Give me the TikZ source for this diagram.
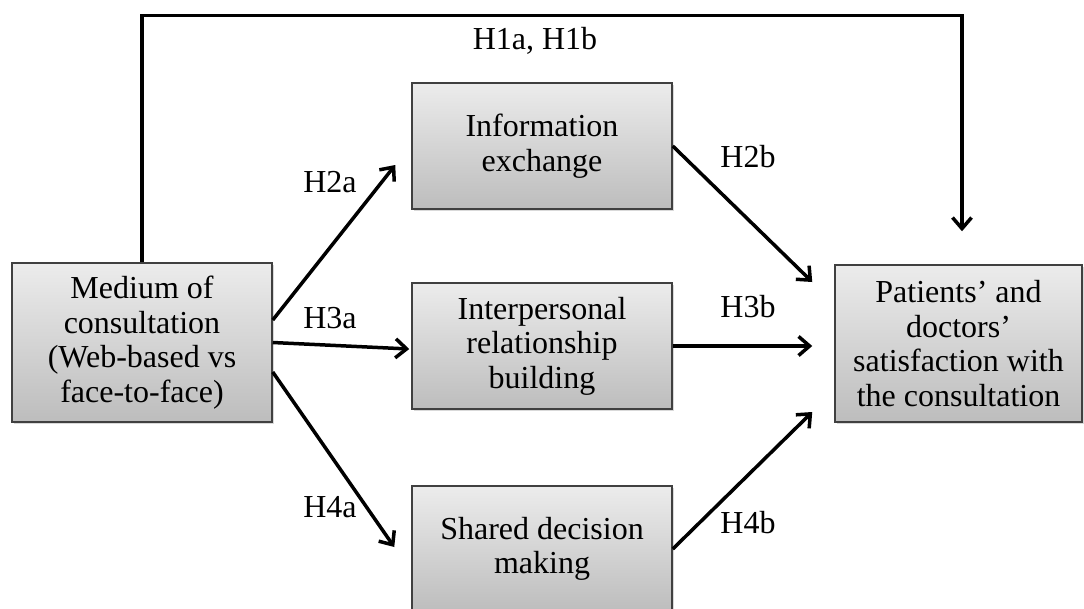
\documentclass[tikz,border=0pt]{standalone}
\usepackage{fontspec}
\setmainfont{Liberation Serif}
\usetikzlibrary{arrows.meta,shadows}

\newcommand{\figfont}{\fontsize{32}{34.5}\selectfont}

\tikzset{
  factor/.style={draw=black!75, line width=1.5pt, top color=gray!15, bottom color=gray!52,
    drop shadow={shadow xshift=1.5pt, shadow yshift=-1.5pt, opacity=0.3},
    align=center, font=\figfont, inner sep=0pt},
  link/.style={line width=3.5pt, -{Straight Barb[length=11pt,width=19pt]}},
  hyp/.style={font=\figfont, inner sep=0pt}
}

\begin{document}
\begin{tikzpicture}[x=1pt,y=-1pt]
\useasboundingbox (0,0) rectangle (1084,608);
% boxes
\node[factor, minimum width=260pt, minimum height=159pt] (med) at (142,342.5) {Medium of\\consultation\\(Web-based vs\\face-to-face)};
\node[factor, minimum width=260pt, minimum height=126pt] (info) at (542,146) {Information\\exchange};
\node[factor, minimum width=260pt, minimum height=126pt] (inter) at (542,346) {Interpersonal\\relationship\\building};
\node[factor, minimum width=260pt, minimum height=126pt] (shared) at (542,549) {Shared decision\\making};
\node[factor, minimum width=247pt, minimum height=157pt] (pat) at (958.5,343.5) {Patients’ and\\doctors’\\satisfaction with\\the consultation};
% direct path
\draw[link] (med.north) -- ++(0,-247) -| ([xshift=3.5pt,yshift=33pt]pat.north);
\node[hyp] (h1) at (535,41) {H1a, H1b};
% mediators
\draw[link] ([yshift=22.5pt]med.east) -- ([xshift=-16pt,yshift=-19pt]info.west);
\draw[link] (med.east) -- ([xshift=-2pt,yshift=-3pt]inter.west);
\draw[link] ([yshift=-29.5pt]med.east) -- ([xshift=-17pt,yshift=2pt]shared.west);
\draw[link] (info.east) -- ([xshift=-22pt,yshift=61.5pt]pat.west);
\draw[link] (inter.east) -- ([xshift=-22pt,yshift=-2.5pt]pat.west);
\draw[link] (shared.east) -- ([xshift=-22pt,yshift=-68.5pt]pat.west);
% labels
\node[hyp] (h2a) at (330,182) {H2a};
\node[hyp] (h3a) at (330,318) {H3a};
\node[hyp] (h4a) at (330,507) {H4a};
\node[hyp] (h2b) at (748,157) {H2b};
\node[hyp] (h3b) at (748,307) {H3b};
\node[hyp] (h4b) at (748,523) {H4b};
\end{tikzpicture}
\end{document}
